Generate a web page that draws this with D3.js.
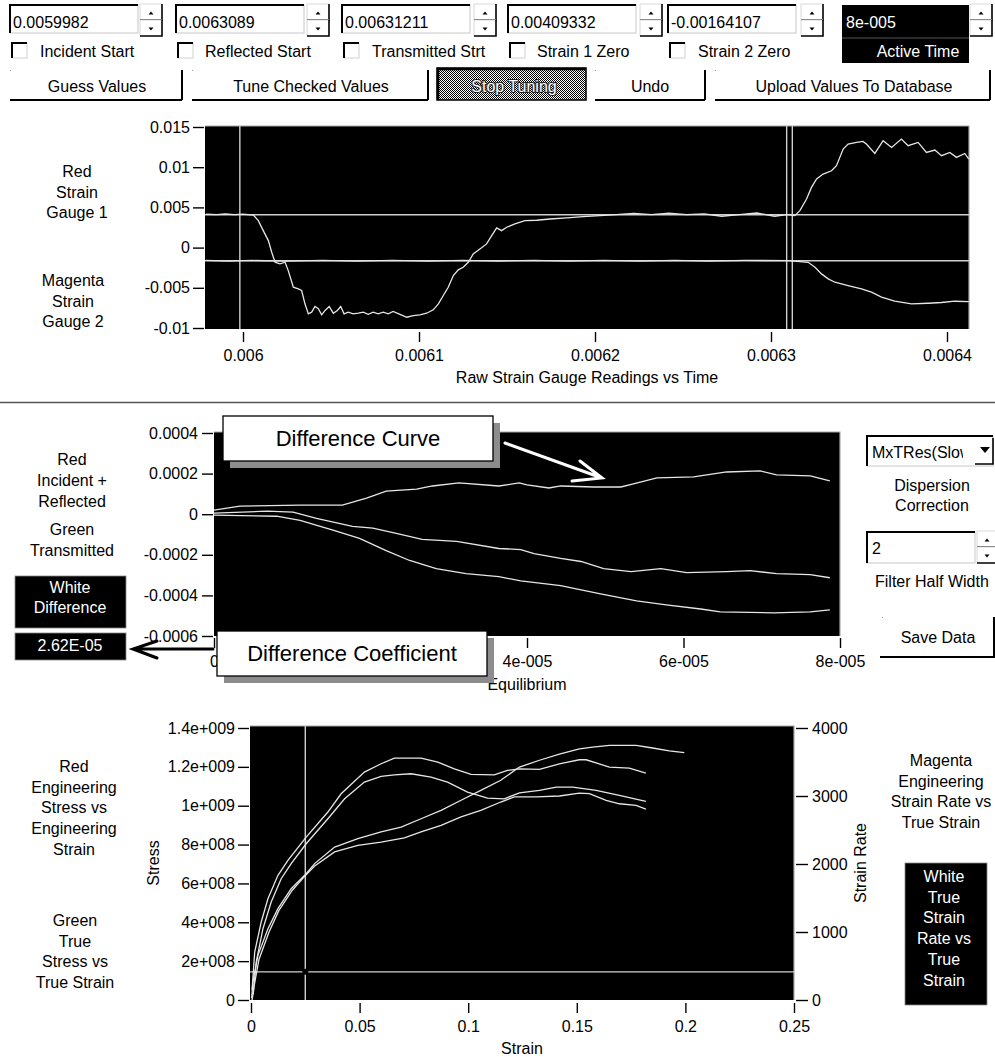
<!DOCTYPE html>
<html>
<head>
<meta charset="utf-8">
<script src="https://cdn.jsdelivr.net/npm/d3@7"></script>
<style>
  html, body { margin: 0; padding: 0; background: #fff; }
  svg { display: block; font-family: "Liberation Sans", Arial, sans-serif; }
</style>
</head>
<body>
<svg id="chart" width="995" height="1057"></svg>
<script>
// ---------- data ----------

// top controls
const fieldValues = ['0.0059982', '0.0063089', '0.00631211', '0.00409332', '-0.00164107'];
const fieldLabels = ['Incident Start', 'Reflected Start', 'Transmitted Strt', 'Strain 1 Zero', 'Strain 2 Zero'];
const activeTime = '8e-005';
const buttonLabels = ['Guess Values', 'Tune Checked Values', 'Stop Tuning', 'Undo', 'Upload Values To Database'];

// raw strain gauge chart
const rawYTicks = [-0.01, -0.005, 0, 0.005, 0.01, 0.015];
const rawYTickLabels = ['-0.01', '-0.005', '0', '0.005', '0.01', '0.015'];
const rawXTicks = [0.006, 0.0061, 0.0062, 0.0063, 0.0064];
const rawXTickLabels = ['0.006', '0.0061', '0.0062', '0.0063', '0.0064'];
const startTimes = [0.0059982, 0.0063089, 0.00631211];
const zeroLevels = [0.00409332, -0.00164107];

const gauge1 = [
  [0.005979, 0.00415], [0.005985, 0.0041], [0.00599, 0.00418], [0.005995, 0.0041], [0.006, 0.00416],
  [0.0060059, 0.00405], [0.0060087, 0.00335], [0.0060115, 0.00211], [0.0060144, 0.00087],
  [0.0060163, -0.00058], [0.0060182, -0.00182], [0.006021, -0.00203], [0.0060239, -0.00182],
  [0.0060257, -0.00286], [0.0060286, -0.00493], [0.0060314, -0.00513], [0.0060333, -0.00534],
  [0.0060352, -0.00699], [0.0060371, -0.00824], [0.006039, -0.00803], [0.0060409, -0.00733],
  [0.0060428, -0.00761], [0.0060447, -0.00836], [0.0060466, -0.00782], [0.006049, -0.00733],
  [0.0060513, -0.00816], [0.0060536, -0.00782], [0.0060555, -0.00733], [0.0060574, -0.00824],
  [0.0060598, -0.00803], [0.0060626, -0.00824], [0.0060655, -0.00815], [0.0060683, -0.00803],
  [0.0060711, -0.0083], [0.006074, -0.00803], [0.0060768, -0.00824], [0.0060797, -0.00803],
  [0.0060825, -0.00824], [0.0060853, -0.00795], [0.0060892, -0.0083], [0.006093, -0.00866],
  [0.0060968, -0.00845], [0.0061005, -0.00836], [0.0061043, -0.00816], [0.0061081, -0.00774],
  [0.006111, -0.00699], [0.0061138, -0.00596], [0.0061166, -0.00493], [0.0061195, -0.00348],
  [0.0061223, -0.00277], [0.0061251, -0.00244], [0.006128, -0.00182], [0.0061308, -0.00079],
  [0.0061346, -0.00017], [0.0061384, 0.00046], [0.0061413, 0.00149], [0.0061441, 0.00244],
  [0.0061469, 0.00211], [0.0061498, 0.00253], [0.0061545, 0.00294], [0.0061602, 0.00335],
  [0.0061668, 0.0034], [0.0061744, 0.00356], [0.0061839, 0.00369], [0.0061933, 0.00385],
  [0.0062028, 0.00397], [0.006212, 0.0041], [0.006222, 0.00425], [0.006232, 0.0041],
  [0.006242, 0.0043], [0.006252, 0.0041], [0.006262, 0.0042], [0.006272, 0.0039],
  [0.006282, 0.0041], [0.006292, 0.0043], [0.006302, 0.0039], [0.006309, 0.0041],
  [0.0063135, 0.00397], [0.0063164, 0.0046], [0.0063202, 0.00605], [0.006323, 0.00749],
  [0.0063259, 0.00853], [0.0063296, 0.00915], [0.0063344, 0.00956], [0.0063372, 0.01018],
  [0.006341, 0.01226], [0.0063438, 0.01288], [0.0063486, 0.01308], [0.0063523, 0.0132],
  [0.0063542, 0.01288], [0.006359, 0.01171], [0.0063637, 0.01329], [0.0063685, 0.01246],
  [0.0063741, 0.0135], [0.0063779, 0.01267], [0.0063836, 0.01308], [0.0063883, 0.01184],
  [0.0063931, 0.01213], [0.0063969, 0.01143], [0.0064016, 0.01184], [0.0064054, 0.01122],
  [0.0064101, 0.01171], [0.0064124, 0.01102]
];

const gauge2 = [
  [0.005979, -0.0016], [0.005992, -0.00168], [0.006005, -0.0016], [0.006025, -0.00167],
  [0.006045, -0.0016], [0.006065, -0.00168], [0.006085, -0.0016], [0.006105, -0.00167],
  [0.006125, -0.0016], [0.006145, -0.00168], [0.006165, -0.0016], [0.006185, -0.00167],
  [0.006205, -0.0016], [0.006225, -0.00168], [0.006245, -0.0016], [0.006265, -0.00167],
  [0.006285, -0.0016], [0.0063098, -0.00161], [0.0063211, -0.00183], [0.006325, -0.00245],
  [0.0063287, -0.00327], [0.0063325, -0.00389], [0.0063363, -0.00431], [0.0063438, -0.00472],
  [0.0063514, -0.00513], [0.0063571, -0.00555], [0.0063628, -0.00617], [0.0063703, -0.00667],
  [0.0063798, -0.00699], [0.0063893, -0.00692], [0.0063969, -0.00683], [0.0064044, -0.00667],
  [0.0064124, -0.00671]
];

// equilibrium chart
const eqYTicks = [-0.0006, -0.0004, -0.0002, 0, 0.0002, 0.0004];
const eqYTickLabels = ['-0.0006', '-0.0004', '-0.0002', '0', '0.0002', '0.0004'];
const eqXTicks = [0, 2e-5, 4e-5, 6e-5, 8e-5];
const eqXTickLabels = ['0', '2e-005', '4e-005', '6e-005', '8e-005'];
const differenceCoefficient = '2.62E-05';

const differenceCurve = [
  [0, 2.0e-5], [3.3e-6, 4.0e-5], [1.10e-5, 4.5e-5], [1.64e-5, 4.5e-5], [1.95e-5, 7.9e-5],
  [2.20e-5, 1.14e-4], [2.59e-5, 1.24e-4], [2.79e-5, 1.39e-4], [3.13e-5, 1.54e-4], [3.64e-5, 1.39e-4],
  [3.90e-5, 1.54e-4], [4.00e-5, 1.44e-4], [4.28e-5, 1.29e-4], [4.43e-5, 1.39e-4], [4.85e-5, 1.34e-4],
  [5.20e-5, 1.34e-4], [5.36e-5, 1.49e-4], [5.66e-5, 1.79e-4], [6.13e-5, 1.84e-4], [6.55e-5, 2.08e-4],
  [6.98e-5, 2.13e-4], [7.19e-5, 1.94e-4], [7.62e-5, 1.89e-4], [7.87e-5, 1.64e-4]
];
const transmitted = [
  [0, 5e-6], [6.8e-6, 1.5e-5], [1.01e-5, 1.0e-5], [1.31e-5, -2.0e-5], [1.77e-5, -6.0e-5],
  [2.03e-5, -6.9e-5], [2.33e-5, -9.4e-5], [2.66e-5, -1.24e-4], [3.10e-5, -1.34e-4], [3.64e-5, -1.69e-4],
  [3.92e-5, -1.74e-4], [4.09e-5, -1.94e-4], [4.43e-5, -2.18e-4], [4.69e-5, -2.33e-4], [4.98e-5, -2.68e-4],
  [5.33e-5, -2.83e-4], [5.71e-5, -2.68e-4], [6.04e-5, -2.88e-4], [6.55e-5, -2.83e-4], [6.85e-5, -2.78e-4],
  [7.19e-5, -2.93e-4], [7.62e-5, -2.98e-4], [7.87e-5, -3.13e-4]
];
const incidentReflected = [
  [0, -5e-6], [8.0e-6, -1.0e-5], [1.10e-5, -3.0e-5], [1.52e-5, -7.9e-5], [1.86e-5, -1.19e-4],
  [2.20e-5, -1.79e-4], [2.50e-5, -2.28e-4], [2.84e-5, -2.68e-4], [3.22e-5, -2.93e-4], [3.64e-5, -3.08e-4],
  [3.92e-5, -3.28e-4], [4.43e-5, -3.52e-4], [4.94e-5, -3.92e-4], [5.40e-5, -4.27e-4], [5.78e-5, -4.47e-4],
  [6.22e-5, -4.67e-4], [6.47e-5, -4.81e-4], [7.15e-5, -4.86e-4], [7.62e-5, -4.81e-4], [7.87e-5, -4.71e-4]
];

// stress / strain chart
const ssXTicks = [0, 0.05, 0.1, 0.15, 0.2, 0.25];
const ssXTickLabels = ['0', '0.05', '0.1', '0.15', '0.2', '0.25'];
const stressTicks = [0, 2e8, 4e8, 6e8, 8e8, 1e9, 1.2e9, 1.4e9];
const stressTickLabels = ['0', '2e+008', '4e+008', '6e+008', '8e+008', '1e+009', '1.2e+009', '1.4e+009'];
const rateTicks = [0, 1000, 2000, 3000, 4000];
const rateTickLabels = ['0', '1000', '2000', '3000', '4000'];
const cursorStrain = 0.025;
const cursorStress = 1.45e8;

const engRate = [
  [0.0005, 150], [0.0017, 706], [0.0047, 1147], [0.0078, 1489], [0.0124, 1833], [0.017, 2054],
  [0.0254, 2396], [0.0354, 2764], [0.0415, 3033], [0.0522, 3352], [0.0599, 3474], [0.066, 3557],
  [0.0783, 3557], [0.086, 3499], [0.0936, 3400], [0.1013, 3318], [0.112, 3312], [0.1181, 3377],
  [0.1236, 3400], [0.1328, 3391], [0.142, 3474], [0.1512, 3533], [0.1543, 3533], [0.165, 3425],
  [0.1742, 3410], [0.1818, 3337]
];
const trueRate = [
  [0.001, 80], [0.0024, 559], [0.0055, 1048], [0.0093, 1441], [0.0139, 1783], [0.0185, 2004],
  [0.0254, 2298], [0.0354, 2665], [0.0431, 2959], [0.0522, 3205], [0.0599, 3288], [0.066, 3312],
  [0.0737, 3327], [0.0829, 3278], [0.0905, 3205], [0.0997, 3058], [0.1089, 2969], [0.1166, 2959],
  [0.1236, 3047], [0.1328, 3082], [0.1405, 3131], [0.1481, 3131], [0.1589, 3082], [0.1696, 3009],
  [0.1818, 2921]
];
const trueStress = [
  [0.0003, 1e7], [0.0009, 9.3e7], [0.0032, 2.3e8], [0.0078, 3.67e8], [0.0124, 4.7e8], [0.0185, 5.73e8],
  [0.0254, 6.5e8], [0.0293, 7.02e8], [0.0385, 7.87e8], [0.0492, 8.3e8], [0.0599, 8.65e8], [0.0691, 8.9e8],
  [0.0783, 9.33e8], [0.0875, 9.76e8], [0.0967, 1.028e9], [0.1058, 1.079e9], [0.115, 1.131e9],
  [0.1236, 1.199e9], [0.1328, 1.234e9], [0.142, 1.265e9], [0.1512, 1.293e9], [0.1573, 1.302e9],
  [0.165, 1.311e9], [0.1773, 1.311e9], [0.1849, 1.297e9], [0.1926, 1.282e9], [0.1995, 1.273e9]
];
const engStress = [
  [0.0005, 0], [0.0014, 7e7], [0.0037, 2.1e8], [0.0083, 3.5e8], [0.0128, 4.6e8], [0.019, 5.65e8],
  [0.0254, 6.45e8], [0.0293, 6.9e8], [0.0385, 7.62e8], [0.0492, 7.96e8], [0.0599, 8.13e8], [0.0706, 8.34e8],
  [0.0783, 8.65e8], [0.0875, 8.99e8], [0.0967, 9.42e8], [0.1058, 9.76e8], [0.115, 1.019e9],
  [0.1212, 1.045e9], [0.1313, 1.045e9], [0.142, 1.05e9], [0.1512, 1.065e9], [0.1558, 1.062e9],
  [0.1635, 1.028e9], [0.1696, 1.01e9], [0.1773, 1.002e9], [0.1818, 0.982e9]
];

// ---------- drawing ----------
const FONT = '"Liberation Sans", Arial, sans-serif';
const svg = d3.select('#chart');
const curveColor = '#e6e6e6';
const cursorColor = '#cfcfcf';

svg.append('rect').attr('width', 995).attr('height', 1057).attr('fill', '#fff');

const defs = svg.append('defs');
const dither = defs.append('pattern').attr('id', 'dither')
  .attr('width', 2).attr('height', 2).attr('patternUnits', 'userSpaceOnUse');
dither.append('rect').attr('width', 2).attr('height', 2).attr('fill', '#fff');
dither.append('rect').attr('width', 1).attr('height', 1).attr('fill', '#000');
dither.append('rect').attr('x', 1).attr('y', 1).attr('width', 1).attr('height', 1).attr('fill', '#000');

function txt(x, y, s, anchor = 'start', fill = '#000', size = 16) {
  return svg.append('text').attr('x', x).attr('y', y).attr('text-anchor', anchor)
    .attr('fill', fill).attr('font-size', size).attr('font-family', FONT).text(s);
}

function lines(cx, y0, step, arr, fill = '#000') {
  arr.forEach((s, i) => txt(cx, y0 + i * step, s, 'middle', fill));
}

function hline(x1, x2, y, color, w) {
  svg.append('line').attr('x1', x1).attr('x2', x2).attr('y1', y).attr('y2', y)
    .attr('stroke', color).attr('stroke-width', w);
}
function vline(x, y1, y2, color, w) {
  svg.append('line').attr('x1', x).attr('x2', x).attr('y1', y1).attr('y2', y2)
    .attr('stroke', color).attr('stroke-width', w);
}

function sunken(x, y, w, h, fill) {
  svg.append('rect').attr('x', x).attr('y', y).attr('width', w).attr('height', h)
    .attr('fill', fill).attr('stroke', '#c8c8c8').attr('stroke-width', 1);
  svg.append('path').attr('d', `M${x},${y + h} V${y} H${x + w}`)
    .attr('fill', 'none').attr('stroke', '#000').attr('stroke-width', 2);
}

function spin(x, y, w, h) {
  const half = h / 2;
  [0, 1].forEach(i => {
    const yy = y + i * half;
    svg.append('rect').attr('x', x).attr('y', yy).attr('width', w).attr('height', half).attr('fill', '#fff');
    svg.append('path').attr('d', `M${x},${yy + half} V${yy} H${x + w}`)
      .attr('fill', 'none').attr('stroke', '#d8d8d8').attr('stroke-width', 1);
    svg.append('path').attr('d', `M${x + w},${yy} V${yy + half} H${x}`)
      .attr('fill', 'none').attr('stroke', '#000').attr('stroke-width', 1.6);
    const cx = x + w / 2, cy = yy + half / 2 + 1;
    const d = i === 0 ? `M${cx - 2.5},${cy + 1.5} L${cx + 2.5},${cy + 1.5} L${cx},${cy - 1.5} Z`
                      : `M${cx - 2.5},${cy - 1.5} L${cx + 2.5},${cy - 1.5} L${cx},${cy + 1.5} Z`;
    svg.append('path').attr('d', d).attr('fill', '#000');
  });
}

function checkbox(x, y) {
  svg.append('rect').attr('x', x).attr('y', y).attr('width', 15).attr('height', 15)
    .attr('fill', '#fff').attr('stroke', '#d0d0d0');
  svg.append('path').attr('d', `M${x},${y + 15} V${y} H${x + 15}`)
    .attr('fill', 'none').attr('stroke', '#000').attr('stroke-width', 2);
}

function button(x1, x2, y1, y2, label, cx) {
  hline(x1, x2, y2, '#000', 2);
  vline(x2, y1, y2, '#000', 2);
  svg.append('rect').attr('x', x1).attr('y', y1).attr('width', 1).attr('height', 1).attr('fill', '#999');
  txt(cx, 92, label, 'middle');
}

// --- top control strip
const fieldX = [10, 176, 342, 508, 668];
const spinX = [140, 307, 474, 640, 801];
const labelX = [40, 205, 372, 537, 698];
fieldValues.forEach((v, i) => {
  sunken(fieldX[i], 5, 128, 28, '#fff');
  txt(fieldX[i] + 3, 28, v);
  spin(spinX[i], 4, 22, 32);
  checkbox(fieldX[i] + 2, 43);
  txt(labelX[i], 57, fieldLabels[i]);
});

svg.append('rect').attr('x', 842).attr('y', 5).attr('width', 127).attr('height', 58).attr('fill', '#000');
hline(842, 969, 38, '#555', 1);
txt(846, 28, activeTime, 'start', '#fff');
txt(918, 57, 'Active Time', 'middle', '#fff');
spin(970, 4, 22, 32);

button(10, 182, 70, 100, buttonLabels[0], 97);
button(192, 428, 70, 100, buttonLabels[1], 311);
svg.append('rect').attr('x', 437).attr('y', 68).attr('width', 149).attr('height', 32)
  .attr('fill', 'url(#dither)').attr('stroke', '#000').attr('stroke-width', 1.5);
svg.append('path').attr('d', 'M438,100 V69 H586').attr('fill', 'none').attr('stroke', '#000').attr('stroke-width', 2.5);
txt(514, 92, buttonLabels[2], 'middle', '#fff')
  .attr('stroke', '#222').attr('stroke-width', 2).attr('paint-order', 'stroke').attr('stroke-linejoin', 'round');
button(595, 705, 70, 100, buttonLabels[3], 650);
button(715, 990, 70, 100, buttonLabels[4], 854);

function styleAxis(g) {
  g.attr('font-size', null).attr('font-family', null);
  g.select('.domain').remove();
  g.selectAll('.tick line').attr('stroke', '#000').attr('stroke-width', 1.4);
  g.selectAll('.tick text').attr('fill', '#000').attr('font-size', 16).attr('font-family', FONT);
}

function plotFrame(x1, x2, y1, y2, clipId) {
  svg.append('rect').attr('x', x1).attr('y', y1).attr('width', x2 - x1).attr('height', y2 - y1).attr('fill', '#000');
  svg.append('path').attr('d', `M${x1},${y1} H${x2} V${y2}`).attr('fill', 'none')
    .attr('stroke', '#a8a8a8').attr('stroke-width', 1.2);
  defs.append('clipPath').attr('id', clipId).append('rect')
    .attr('x', x1).attr('y', y1).attr('width', x2 - x1).attr('height', y2 - y1);
  return svg.append('g').attr('clip-path', `url(#${clipId})`);
}

function drawCurve(g, data, x, y) {
  g.append('path').datum(data)
    .attr('d', d3.line().x(d => x(d[0])).y(d => y(d[1])))
    .attr('fill', 'none').attr('stroke', curveColor).attr('stroke-width', 1.3);
}

// --- raw strain gauge chart
const xRaw = d3.scaleLinear().domain([0.0059784, 0.0064125]).range([205, 969]);
const yRaw = d3.scaleLinear().domain([-0.01, 0.015]).range([328, 127]);
const gRaw = plotFrame(205, 969, 126, 329, 'clipRaw');
zeroLevels.forEach(v => gRaw.append('line').attr('x1', 205).attr('x2', 969)
  .attr('y1', yRaw(v)).attr('y2', yRaw(v)).attr('stroke', cursorColor).attr('stroke-width', 1.4));
startTimes.forEach(t => gRaw.append('line').attr('x1', xRaw(t)).attr('x2', xRaw(t))
  .attr('y1', 126).attr('y2', 329).attr('stroke', cursorColor).attr('stroke-width', 1.4));
drawCurve(gRaw, gauge1, xRaw, yRaw);
drawCurve(gRaw, gauge2, xRaw, yRaw);

svg.append('g').attr('transform', 'translate(204,0)')
  .call(d3.axisLeft(yRaw).tickValues(rawYTicks).tickFormat((d, i) => rawYTickLabels[i]).tickSize(11).tickPadding(3))
  .call(styleAxis);
svg.append('g').attr('transform', 'translate(0,332)')
  .call(d3.axisBottom(xRaw).tickValues(rawXTicks).tickFormat((d, i) => rawXTickLabels[i]).tickSize(10).tickPadding(8))
  .call(styleAxis);
txt(587, 383, 'Raw Strain Gauge Readings vs Time', 'middle');
lines(77, 177, 20.5, ['Red', 'Strain', 'Gauge 1']);
lines(73, 286, 20.5, ['Magenta', 'Strain', 'Gauge 2']);

hline(0, 995, 402.5, '#555', 1.6);

// --- equilibrium chart
const xEq = d3.scaleLinear().domain([0, 8e-5]).range([214, 840]);
const yEq = d3.scaleLinear().domain([-0.0006, 0.0004]).range([636, 433]);
const gEq = plotFrame(214, 840, 432, 636, 'clipEq');
drawCurve(gEq, differenceCurve, xEq, yEq);
drawCurve(gEq, transmitted, xEq, yEq);
drawCurve(gEq, incidentReflected, xEq, yEq);

svg.append('g').attr('transform', 'translate(213,0)')
  .call(d3.axisLeft(yEq).tickValues(eqYTicks).tickFormat((d, i) => eqYTickLabels[i]).tickSize(11).tickPadding(4))
  .call(styleAxis);
const eqXAxis = svg.append('g').attr('transform', 'translate(0,638)')
  .call(d3.axisBottom(xEq).tickValues(eqXTicks).tickFormat((d, i) => eqXTickLabels[i]).tickSize(10).tickPadding(8))
  .call(styleAxis);
// the 2e-005 label sits entirely under the "Difference Coefficient" callout in the screenshot
eqXAxis.selectAll('.tick').filter(d => d === 2e-5).select('text').remove();
txt(527, 690, 'Equilibrium', 'middle');

lines(72, 465, 21, ['Red', 'Incident +', 'Reflected']);
lines(72, 535, 21, ['Green', 'Transmitted']);
svg.append('rect').attr('x', 15).attr('y', 576).attr('width', 111).attr('height', 52)
  .attr('fill', '#000').attr('stroke', '#888').attr('stroke-width', 0.8);
lines(70, 593, 20, ['White', 'Difference'], '#fff');
svg.append('rect').attr('x', 15).attr('y', 633).attr('width', 111).attr('height', 27)
  .attr('fill', '#000').attr('stroke', '#888').attr('stroke-width', 0.8);
txt(70, 651, differenceCoefficient, 'middle', '#fff');

// right-hand controls
sunken(867, 436, 126, 30, '#fff');
defs.append('clipPath').attr('id', 'clipCombo').append('rect').attr('x', 867).attr('y', 436).attr('width', 96).attr('height', 30);
txt(872, 458, 'MxTRes(Slow').attr('clip-path', 'url(#clipCombo)');
svg.append('rect').attr('x', 975).attr('y', 438).attr('width', 18).attr('height', 26).attr('fill', '#fff');
svg.append('path').attr('d', 'M993,438 V464 H975').attr('fill', 'none').attr('stroke', '#000').attr('stroke-width', 1.6);
svg.append('path').attr('d', 'M980,447 L990,447 L985,453 Z').attr('fill', '#000');
lines(932, 491, 20, ['Dispersion', 'Correction']);
sunken(867, 532, 108, 31, '#fff');
txt(872, 554, '2');
spin(977, 531, 20, 32);
txt(875, 587, 'Filter Half Width');
hline(880, 995, 657, '#000', 2);
vline(994, 617, 657, '#000', 2);
svg.append('rect').attr('x', 882).attr('y', 617).attr('width', 1).attr('height', 1).attr('fill', '#999');
txt(938, 643, 'Save Data', 'middle');

// --- stress / strain chart
const xSS = d3.scaleLinear().domain([0, 0.25]).range([251, 794]);
const yStress = d3.scaleLinear().domain([0, 1.4e9]).range([1000, 728]);
const yRate = d3.scaleLinear().domain([0, 4000]).range([1000, 728]);
const gSS = plotFrame(250, 794, 726, 1000, 'clipSS');
gSS.append('line').attr('x1', xSS(cursorStrain)).attr('x2', xSS(cursorStrain)).attr('y1', 726).attr('y2', 1000)
  .attr('stroke', cursorColor).attr('stroke-width', 1.4);
gSS.append('line').attr('x1', 250).attr('x2', 794).attr('y1', yStress(cursorStress)).attr('y2', yStress(cursorStress))
  .attr('stroke', cursorColor).attr('stroke-width', 1.4);
drawCurve(gSS, engRate, xSS, yRate);
drawCurve(gSS, trueRate, xSS, yRate);
drawCurve(gSS, trueStress, xSS, yStress);
drawCurve(gSS, engStress, xSS, yStress);
gSS.append('circle').attr('cx', xSS(cursorStrain)).attr('cy', yStress(cursorStress)).attr('r', 3).attr('fill', '#000');

svg.append('g').attr('transform', 'translate(249,0)')
  .call(d3.axisLeft(yStress).tickValues(stressTicks).tickFormat((d, i) => stressTickLabels[i]).tickSize(11).tickPadding(3))
  .call(styleAxis);
svg.append('g').attr('transform', 'translate(796,0)')
  .call(d3.axisRight(yRate).tickValues(rateTicks).tickFormat((d, i) => rateTickLabels[i]).tickSize(12).tickPadding(4))
  .call(styleAxis);
svg.append('g').attr('transform', 'translate(0,1003)')
  .call(d3.axisBottom(xSS).tickValues(ssXTicks).tickFormat((d, i) => ssXTickLabels[i]).tickSize(10).tickPadding(8))
  .call(styleAxis);
txt(522, 1054, 'Strain', 'middle');
txt(0, 0, 'Stress', 'middle').attr('transform', 'translate(159,863) rotate(-90)');
txt(0, 0, 'Strain Rate', 'middle').attr('transform', 'translate(866,863) rotate(-90)');

lines(74, 772, 20.7, ['Red', 'Engineering', 'Stress vs', 'Engineering', 'Strain']);
lines(75, 926, 20.7, ['Green', 'True', 'Stress vs', 'True Strain']);
lines(941, 766, 20.7, ['Magenta', 'Engineering', 'Strain Rate vs', 'True Strain']);
svg.append('rect').attr('x', 905).attr('y', 863).attr('width', 82).attr('height', 142)
  .attr('fill', '#000').attr('stroke', '#888').attr('stroke-width', 0.8);
lines(944, 882, 20.7, ['White', 'True', 'Strain', 'Rate vs', 'True', 'Strain'], '#fff');

// --- annotation overlays
function callout(x, y, w, h, label, size) {
  svg.append('rect').attr('x', x + 7).attr('y', y + 7).attr('width', w).attr('height', h).attr('fill', '#8c8c8c');
  svg.append('rect').attr('x', x).attr('y', y).attr('width', w).attr('height', h)
    .attr('fill', '#fff').attr('stroke', '#000').attr('stroke-width', 1.3);
  txt(x + w / 2, y + h / 2 + size * 0.36, label, 'middle', '#000', size);
}
callout(223, 416, 270, 45, 'Difference Curve', 22);
callout(217, 631, 270, 45, 'Difference Coefficient', 22);

svg.append('path').attr('d', 'M505,443 L602,478 M580,461 L602,478 L572,481')
  .attr('fill', 'none').attr('stroke', '#fff').attr('stroke-width', 3).attr('stroke-linecap', 'round');
svg.append('path').attr('d', 'M213,649 L133,649 M157,641 L133,649 L157,658')
  .attr('fill', 'none').attr('stroke', '#000').attr('stroke-width', 3).attr('stroke-linecap', 'round');
</script>
</body>
</html>
